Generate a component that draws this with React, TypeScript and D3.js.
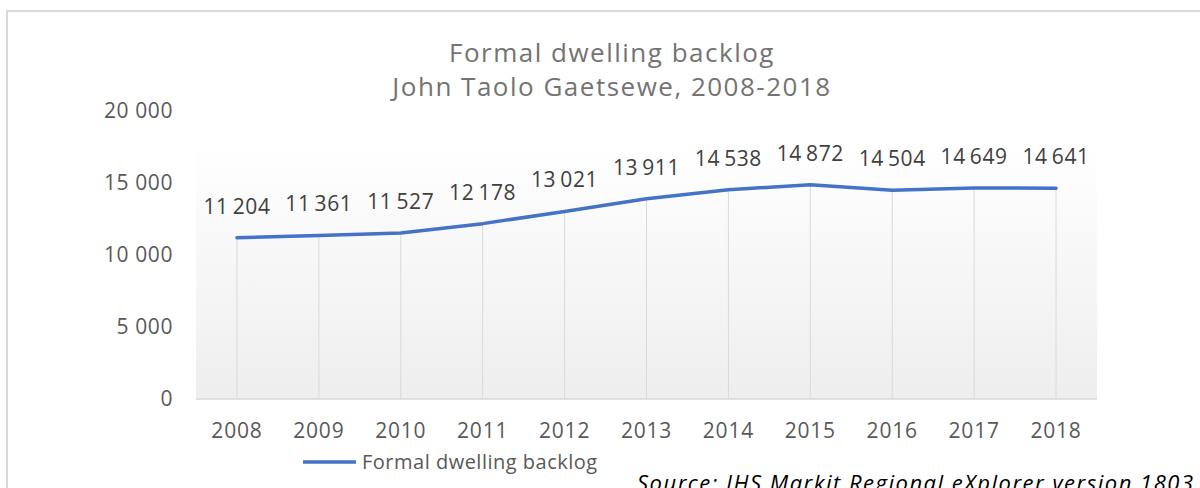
import React from "react";
import * as d3 from "d3";

const years = ["2008", "2009", "2010", "2011", "2012", "2013", "2014", "2015", "2016", "2017", "2018"];
const backlog = [11204, 11361, 11527, 12178, 13021, 13911, 14538, 14872, 14504, 14649, 14641];
const yTicks = [0, 5000, 10000, 15000, 20000];
const titleLines = ["Formal dwelling backlog", "John Taolo Gaetsewe, 2008-2018"];
const seriesName = "Formal dwelling backlog";
const sourceNote = "Source: IHS Markit Regional eXplorer version 1803";

const W = 1200;
const H = 488;
const FONT = "'Open Sans', 'Noto Sans', sans-serif";

// space-separated thousands, e.g. 14 872
const fmt = (v: number) => d3.format(",")(v).replace(/,/g, "\u2009");
const fmtTick = (v: number) => d3.format(",")(v).replace(/,/g, " ");

export default function App() {
  const plot = { left: 196, right: 1097, top: 142, bottom: 399 };
  const x = d3.scaleBand<string>().domain(years).range([plot.left, plot.right]);
  const y = d3.scaleLinear().domain([0, 20000]).range([plot.bottom, 111]);
  const cx = (yr: string) => (x(yr) ?? 0) + x.bandwidth() / 2;

  const line = d3
    .line<number>()
    .x((_, i) => cx(years[i]))
    .y((d) => y(d));

  return (
    <svg
      width={W}
      height={H}
      style={{ position: "absolute", left: 0, top: 0, display: "block" }}
      fontFamily={FONT}
    >
      <defs>
        <linearGradient id="plotFill" x1="0" y1="0" x2="0" y2="1">
          <stop offset="0%" stopColor="#ffffff" />
          <stop offset="100%" stopColor="#eeeeee" />
        </linearGradient>
      </defs>
      <rect x={0} y={0} width={W} height={H} fill="#ffffff" />
      {/* chart frame */}
      <path d={`M7,${H + 2} V11 H${W + 2}`} fill="none" stroke="#d9d9d9" strokeWidth={2} />

      {/* title */}
      {titleLines.map((t, i) => (
        <text
          key={t}
          x={612}
          y={62 + i * 34}
          textAnchor="middle"
          fontSize={26}
          letterSpacing={1.5}
          fill="#737373"
        >
          {t}
        </text>
      ))}

      {/* plot area */}
      <rect
        x={plot.left}
        y={plot.top}
        width={plot.right - plot.left}
        height={plot.bottom - plot.top}
        fill="url(#plotFill)"
      />

      {/* y tick labels */}
      {yTicks.map((t) => (
        <text key={t} x={173} y={y(t) + 7} textAnchor="end" fontSize={21} letterSpacing={0.6} fill="#595959">
          {fmtTick(t)}
        </text>
      ))}

      {/* drop lines */}
      {backlog.map((v, i) => (
        <line
          key={years[i]}
          x1={cx(years[i])}
          x2={cx(years[i])}
          y1={y(v)}
          y2={plot.bottom}
          stroke="#d9d9d9"
          strokeWidth={1}
        />
      ))}

      {/* category axis */}
      <line x1={plot.left} x2={plot.right} y1={plot.bottom} y2={plot.bottom} stroke="#d9d9d9" strokeWidth={1.5} />
      {years.map((yr) => (
        <text key={yr} x={cx(yr)} y={438} textAnchor="middle" fontSize={21} letterSpacing={0.8} fill="#595959">
          {yr}
        </text>
      ))}

      {/* series line */}
      <path
        d={line(backlog) ?? ""}
        fill="none"
        stroke="#4472c4"
        strokeWidth={3.5}
        strokeLinejoin="round"
        strokeLinecap="round"
      />

      {/* data labels */}
      {backlog.map((v, i) => (
        <text
          key={"l" + years[i]}
          x={cx(years[i])}
          y={y(v) - 24}
          textAnchor="middle"
          fontSize={21}
          letterSpacing={0.6}
          fill="#404040"
        >
          {fmt(v)}
        </text>
      ))}

      {/* legend */}
      <line x1={303} x2={356} y1={462} y2={462} stroke="#4472c4" strokeWidth={3.5} />
      <text x={362} y={469} fontSize={20} letterSpacing={0.5} fill="#595959">
        {seriesName}
      </text>

      {/* source note */}
      <text x={637} y={491} fontSize={22} letterSpacing={1.5} fontStyle="italic" fill="#000000">
        {sourceNote}
      </text>
    </svg>
  );
}
